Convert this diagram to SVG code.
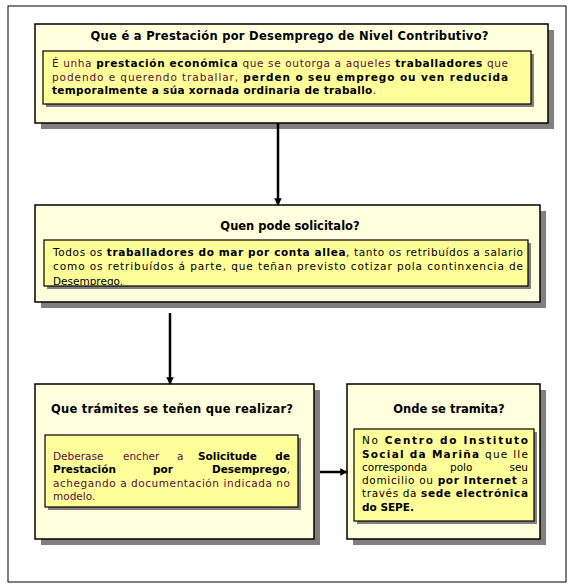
<svg xmlns="http://www.w3.org/2000/svg" width="576" height="588" viewBox="0 0 576 588">
<style>
text{font-family:"DejaVu Sans",Verdana,sans-serif;font-size:10.5px;fill:#000}
.t{font-size:11.5px;font-weight:bold}
.b{font-weight:bold;fill:#000}
.p{fill:#5a0a40}
.box{fill:#FFFFDD;stroke:#000;stroke-width:1.5}
.in{fill:#FFFF99;stroke:#000;stroke-width:1.2}
.sh{fill:#808080}
.con{stroke:#000;stroke-width:2.5;fill:none}
</style>
<defs>
<marker id="ah" viewBox="0 0 10 10" refX="9" refY="5" markerWidth="3" markerHeight="3" orient="auto" markerUnits="strokeWidth">
<path d="M0,0 L10,5 L0,10 z" fill="#000"/>
</marker>
<clipPath id="c2"><rect x="44" y="240" width="484" height="45"/></clipPath>
</defs>
<rect x="0" y="0" width="576" height="588" fill="#fff"/>
<rect x="8" y="6" width="558" height="576" fill="none" stroke="#000" stroke-width="1"/>

<g id="n1">
<rect class="sh" x="41" y="30" width="513" height="99"/>
<rect class="box" x="35" y="24" width="513" height="99"/>
<text class="t" x="289.5" y="40" text-anchor="middle" textLength="398" lengthAdjust="spacing">Que é a Prestación por Desemprego de Nivel Contributivo?</text>
<rect class="sh" x="46" y="54" width="488" height="53"/>
<rect class="in" x="43" y="51" width="488" height="53"/>
<text x="52" y="67" textLength="456" lengthAdjust="spacing"><tspan class="p">É unha </tspan><tspan class="b">prestación económica</tspan><tspan class="p"> que se outorga a aqueles </tspan><tspan class="b">traballadores</tspan><tspan class="p"> que</tspan></text>
<text x="52" y="81" textLength="456" lengthAdjust="spacing"><tspan class="p">podendo e querendo traballar, </tspan><tspan class="b">perden o seu emprego ou ven reducida</tspan></text>
<text x="52" y="94" textLength="324" lengthAdjust="spacing"><tspan class="b">temporalmente a súa xornada ordinaria de traballo</tspan><tspan class="p">.</tspan></text>
</g>

<g id="n2">
<rect class="sh" x="41" y="211" width="505" height="97"/>
<rect class="box" x="35" y="205" width="505" height="97"/>
<text class="t" x="290" y="230" text-anchor="middle">Quen pode solicitalo?</text>
<rect class="sh" x="47" y="243" width="484" height="46"/>
<rect class="in" x="44" y="240" width="484" height="46"/>
<g clip-path="url(#c2)">
<text x="53" y="256" textLength="470" lengthAdjust="spacing">Todos os <tspan class="b">traballadores do mar por conta allea</tspan>, tanto os retribuídos a salario</text>
<text x="53" y="270" textLength="470" lengthAdjust="spacing">como os retribuídos á parte, que teñan previsto cotizar pola continxencia de</text>
<text x="53" y="285">Desemprego.</text>
</g>
</g>

<g id="n3">
<rect class="sh" x="41" y="390" width="279" height="155"/>
<rect class="box" x="35" y="384" width="279" height="155"/>
<text class="t" x="51" y="413" textLength="242" lengthAdjust="spacing">Que trámites se teñen que realizar?</text>
<rect class="sh" x="48" y="438" width="253" height="72"/>
<rect class="in" x="45" y="435" width="253" height="72"/>
<text class="p" x="53" y="460">Deberase</text>
<text class="p" x="123" y="460">encher</text>
<text class="p" x="177" y="460">a</text>
<text class="b" x="198" y="460">Solicitude</text>
<text class="b" x="290" y="460" text-anchor="end">de</text>
<text class="b" x="53" y="473">Prestación</text>
<text class="b" x="153" y="473">por</text>
<text x="290" y="473" text-anchor="end"><tspan class="b">Desemprego</tspan><tspan class="p">,</tspan></text>
<text class="p" x="53" y="487" textLength="237" lengthAdjust="spacing">achegando a documentación indicada no</text>
<text class="p" x="53" y="500">modelo.</text>
</g>

<g id="n4">
<rect class="sh" x="353" y="390" width="193" height="155"/>
<rect class="box" x="347" y="384" width="193" height="155"/>
<text class="t" x="449" y="413" text-anchor="middle">Onde se tramita?</text>
<rect class="sh" x="357" y="432" width="180" height="92"/>
<rect class="in" x="354" y="429" width="180" height="92"/>
<text x="362" y="444" textLength="166" lengthAdjust="spacing">No <tspan class="b">Centro do Instituto</tspan></text>
<text x="362" y="458" textLength="166" lengthAdjust="spacing"><tspan class="b">Social da Mariña</tspan> que lle</text>
<text x="362" y="471">corresponda</text>
<text x="450" y="471">polo</text>
<text x="528" y="471" text-anchor="end">seu</text>
<text x="362" y="484" textLength="166" lengthAdjust="spacing">domicilio ou <tspan class="b">por Internet</tspan> a</text>
<text x="362" y="497" textLength="166" lengthAdjust="spacing">través da <tspan class="b">sede electrónica</tspan></text>
<text class="b" x="362" y="511">do SEPE.</text>
</g>

<g id="connectors">
<line class="con" x1="278" y1="123" x2="278" y2="205" marker-end="url(#ah)"/>
<line class="con" x1="170" y1="313" x2="170" y2="384" marker-end="url(#ah)"/>
<line class="con" x1="320" y1="472" x2="347" y2="472" marker-end="url(#ah)"/>
</g>
</svg>
